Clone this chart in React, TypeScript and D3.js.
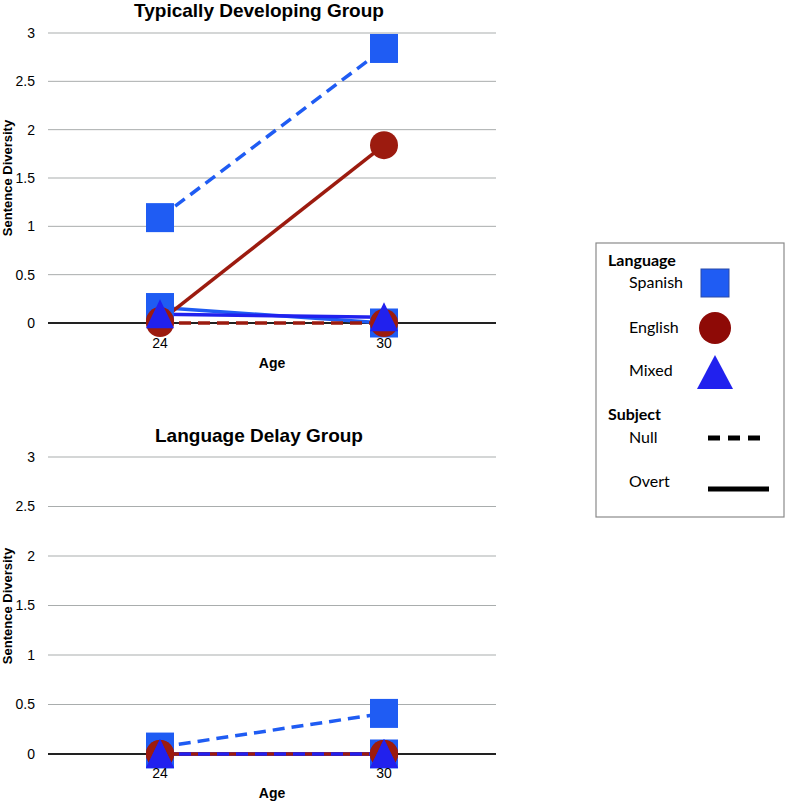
import * as d3 from "d3"

// ages on the x axis
const ages = ["24", "30"]
const yTicks = [0, 0.5, 1, 1.5, 2, 2.5, 3]

// Typically Developing Group
const tdSpanishNull = [1.09, 2.84]
const tdSpanishOvert = [0.16, 0.0]
const tdEnglishNull = [0.0, 0.0]
const tdEnglishOvert = [0.02, 1.84]
const tdMixedOvert = [0.09, 0.06]

// Language Delay Group
const ldSpanishNull = [0.07, 0.41]
const ldSpanishOvert = [0.0, 0.0]
const ldEnglishNull = [0.0, 0.0]
const ldEnglishOvert = [0.0, 0.0]
const ldMixedNull = [0.0, 0.0]
const ldMixedOvert = [0.0, 0.0]

type Lang = "Spanish" | "English" | "Mixed"
type Series = { lang: Lang; subject: "Null" | "Overt"; values: number[] }

const langOrder: Lang[] = ["Spanish", "English", "Mixed"]

const colors: Record<Lang, string> = {
	Spanish: "#1f5cf3",
	English: "#9c1b0f",
	Mixed: "#2121ee",
}

// listed in drawing order of the lines
const tdSeries: Series[] = [
	{ lang: "Spanish", subject: "Null", values: tdSpanishNull },
	{ lang: "Spanish", subject: "Overt", values: tdSpanishOvert },
	{ lang: "Mixed", subject: "Overt", values: tdMixedOvert },
	{ lang: "English", subject: "Overt", values: tdEnglishOvert },
	{ lang: "English", subject: "Null", values: tdEnglishNull },
]

const ldSeries: Series[] = [
	{ lang: "Spanish", subject: "Null", values: ldSpanishNull },
	{ lang: "Spanish", subject: "Overt", values: ldSpanishOvert },
	{ lang: "Mixed", subject: "Overt", values: ldMixedOvert },
	{ lang: "English", subject: "Null", values: ldEnglishNull },
	{ lang: "English", subject: "Overt", values: ldEnglishOvert },
	{ lang: "Mixed", subject: "Null", values: ldMixedNull },
]

const chartFont = "'Liberation Sans', Arial, sans-serif"
const legendFont = "Lato, 'Open Sans', sans-serif"

const Marker = ({ lang, x, y }: { lang: Lang; x: number; y: number }) => {
	if (lang === "Spanish")
		return <rect x={x - 14} y={y - 14.5} width={28} height={29} fill={colors.Spanish} />
	if (lang === "English") return <circle cx={x} cy={y} r={14} fill={colors.English} />
	return <path d={`M${x},${y - 15}L${x + 14},${y + 14}L${x - 14},${y + 14}Z`} fill={colors.Mixed} />
}

const Panel = ({ title, series, top, zero, titleY, tickY, ageY, labelY }: {
	title: string; series: Series[]; top: number; zero: number
	titleY: number; tickY: number; ageY: number; labelY: number
}) => {
	const left = 48
	const right = 496
	const x = d3.scaleBand().domain(ages).range([left, right]).padding(0)
	const y = d3.scaleLinear().domain([0, 3]).range([zero, top])
	const cx = (a: string) => (x(a) as number) + x.bandwidth() / 2
	const line = d3.line<number>().x((_, i) => cx(ages[i])).y((d) => y(d))

	// markers: squares under circles under triangles
	const markerSeries = langOrder.flatMap((l) => series.filter((s) => s.lang === l))

	return (
		<g fontFamily={chartFont}>
			<text x={259} y={titleY} textAnchor="middle" fontSize={19} fontWeight="bold">{title}</text>
			{yTicks.map((t) => (
				<g key={t}>
					{t !== 0 && <line x1={left} x2={right} y1={y(t)} y2={y(t)} stroke="#a9adad" strokeWidth={1} />}
					<text x={35} y={y(t)} dy="0.35em" textAnchor="end" fontSize={14}>{t}</text>
				</g>
			))}
			<line x1={left} x2={right} y1={y(0)} y2={y(0)} stroke="#222" strokeWidth={2} />
			{series.map((s, i) => (
				<path key={i} d={line(s.values) || ""} fill="none" stroke={colors[s.lang]}
					strokeWidth={3.5} strokeDasharray={s.subject === "Null" ? "12,7" : undefined} />
			))}
			{markerSeries.map((s, i) => s.values.map((v, j) => (
				<Marker key={i + "-" + j} lang={s.lang} x={cx(ages[j])} y={y(v)} />
			)))}
			{ages.map((a) => (
				<text key={a} x={cx(a)} y={tickY} textAnchor="middle" fontSize={14}>{a}</text>
			))}
			<text x={272} y={ageY} textAnchor="middle" fontSize={14} fontWeight="bold">Age</text>
			<text transform={`translate(12,${labelY}) rotate(-90)`} textAnchor="middle" fontSize={13} fontWeight="bold">
				Sentence Diversity
			</text>
		</g>
	)
}

const Legend = () => (
	<g fontFamily={legendFont} fontSize={16}>
		<rect x={596} y={243} width={188} height={274} fill="#fff" stroke="#8a8a8a" strokeWidth={1.2} />
		<text x={608} y={266} fontWeight="bold">Language</text>
		<text x={629} y={288}>Spanish</text>
		<rect x={701} y={269} width={28} height={28} fill={colors.Spanish} stroke="#2a4aa8" strokeWidth={1} />
		<text x={629} y={333}>English</text>
		<circle cx={715} cy={328} r={16} fill="#8e0a06" />
		<text x={629} y={376}>Mixed</text>
		<path d="M715,355L733,389L697,389Z" fill={colors.Mixed} />
		<text x={608} y={420} fontWeight="bold">Subject</text>
		<text x={629} y={443}>Null</text>
		<line x1={708} x2={764} y1={438} y2={438} stroke="#000" strokeWidth={5} strokeDasharray="12,8" />
		<text x={629} y={487}>Overt</text>
		<line x1={708} x2={769} y1={489} y2={489} stroke="#000" strokeWidth={5} />
	</g>
)

export default function App() {
	return (
		<svg width={787} height={804} style={{ position: "absolute", left: 0, top: 0, background: "#fff" }}>
			<Panel title="Typically Developing Group" series={tdSeries} top={33} zero={323}
				titleY={17} tickY={348} ageY={368} labelY={178} />
			<Panel title="Language Delay Group" series={ldSeries} top={457} zero={754}
				titleY={442} tickY={778} ageY={798} labelY={606} />
			<Legend />
		</svg>
	)
}
